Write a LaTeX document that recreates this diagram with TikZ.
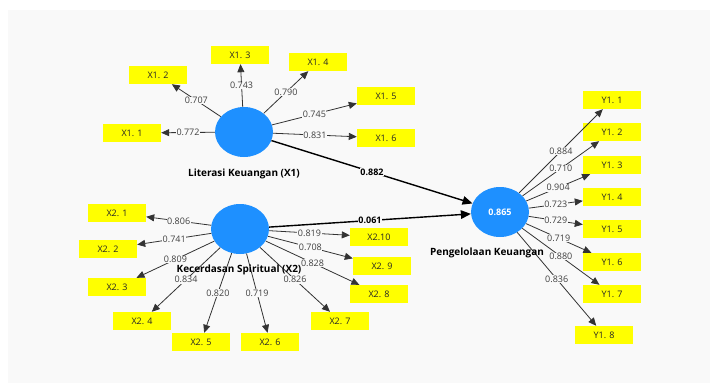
\documentclass[tikz,border=0pt]{standalone}
\usepackage{fontspec}
\setmainfont{Open Sans}
\usetikzlibrary{shapes.geometric,arrows.meta}
\definecolor{bg}{HTML}{F9F9F9}
\definecolor{lv}{HTML}{1E90FF}
\definecolor{ind}{HTML}{FFFF00}
\definecolor{ln}{HTML}{333333}
\begin{document}
\begin{tikzpicture}[x=1pt,y=-1pt,
 lvnode/.style={ellipse,fill=lv,minimum width=58pt,minimum height=50pt,inner sep=0pt},
 indbox/.style={rectangle,fill=ind,minimum width=58pt,minimum height=18pt,inner sep=0pt,font=\fontsize{9}{10}\selectfont,text=black!85},
 load/.style={draw=ln,line width=0.8pt,-{Triangle[length=8pt,width=7pt]}},
 loadlab/.style={fill=bg,inner sep=0.6pt,font=\fontsize{9}{10}\selectfont,text=black!75},
 strpath/.style={draw=black,line width=1.4pt,-{Triangle[length=10pt,width=8.5pt]}},
 strlab/.style={fill=bg,inner sep=0.6pt,font=\bfseries\fontsize{9}{10}\selectfont},
 lvlab/.style={font=\bfseries\fontsize{10}{12}\selectfont}
]
\useasboundingbox (0,0) rectangle (710,383);
\fill[white] (0,0) rectangle (710,383);
\fill[bg] (8,10) rectangle (710,383);

% latent variables
\node[lvnode] (X1) at (244,132) {};
\node[lvnode] (X2) at (240,229) {};
\node[lvnode,text=white,font=\bfseries\fontsize{9}{10}\selectfont] (Y) at (500,212) {0.865};

% X1 indicators
\node[indbox] (x11) at (132,133) {X1. 1};
\node[indbox] (x12) at (158,75) {X1. 2};
\node[indbox] (x13) at (240,55) {X1. 3};
\node[indbox] (x14) at (318,62) {X1. 4};
\node[indbox] (x15) at (386,96) {X1. 5};
\node[indbox] (x16) at (386,138) {X1. 6};

% X2 indicators
\node[indbox] (x21) at (117,213) {X2. 1};
\node[indbox] (x22) at (108,249) {X2. 2};
\node[indbox] (x23) at (117,287) {X2. 3};
\node[indbox] (x24) at (142,321) {X2. 4};
\node[indbox] (x25) at (201,342) {X2. 5};
\node[indbox] (x26) at (270,342) {X2. 6};
\node[indbox] (x27) at (340,321) {X2. 7};
\node[indbox] (x28) at (379,294) {X2. 8};
\node[indbox] (x29) at (382,266) {X2. 9};
\node[indbox] (x210) at (379,237) {X2.10};

% Y indicators
\node[indbox] (y1) at (612,100) {Y1. 1};
\node[indbox] (y2) at (612,132) {Y1. 2};
\node[indbox] (y3) at (612,165) {Y1. 3};
\node[indbox] (y4) at (612,197) {Y1. 4};
\node[indbox] (y5) at (612,229) {Y1. 5};
\node[indbox] (y6) at (612,262) {Y1. 6};
\node[indbox] (y7) at (612,294) {Y1. 7};
\node[indbox] (y8) at (604,335) {Y1. 8};

% X1 loadings
\draw[load] (X1) -- node[loadlab]{0.772} (x11);
\draw[load] (X1) -- node[loadlab]{0.707} (x12);
\draw[load] (X1) -- node[loadlab]{0.743} (x13);
\draw[load] (X1) -- node[loadlab]{0.790} (x14);
\draw[load] (X1) -- node[loadlab]{0.745} (x15);
\draw[load] (X1) -- node[loadlab]{0.831} (x16);

% X2 loadings
\draw[load] (X2) -- node[loadlab]{0.806} (x21);
\draw[load] (X2) -- node[loadlab]{0.741} (x22);
\draw[load] (X2) -- node[loadlab]{0.809} (x23);
\draw[load] (X2) -- node[loadlab]{0.834} (x24);
\draw[load] (X2) -- node[loadlab]{0.820} (x25);
\draw[load] (X2) -- node[loadlab]{0.719} (x26);
\draw[load] (X2) -- node[loadlab]{0.826} (x27);
\draw[load] (X2) -- node[loadlab]{0.828} (x28);
\draw[load] (X2) -- node[loadlab]{0.708} (x29);
\draw[load] (X2) -- node[loadlab]{0.819} (x210);

% Y loadings
\draw[load] (Y) -- node[loadlab]{0.884} (y1);
\draw[load] (Y) -- node[loadlab]{0.710} (y2);
\draw[load] (Y) -- node[loadlab]{0.904} (y3);
\draw[load] (Y) -- node[loadlab]{0.723} (y4);
\draw[load] (Y) -- node[loadlab]{0.729} (y5);
\draw[load] (Y) -- node[loadlab]{0.719} (y6);
\draw[load] (Y) -- node[loadlab]{0.880} (y7);
\draw[load] (Y) -- node[loadlab]{0.836} (y8);

% structural paths
\draw[strpath] (X1) -- node[strlab]{0.882} (Y);
\draw[strpath] (X2) -- node[strlab]{0.061} (Y);

% latent labels
\node[lvlab] (lX1) at (244,174) {Literasi Keuangan (X1)};
\node[lvlab] (lX2) at (239,270) {Kecerdasan Spiritual (X2)};
\node[lvlab] (lY) at (487,253) {Pengelolaan Keuangan};
\end{tikzpicture}
\end{document}
